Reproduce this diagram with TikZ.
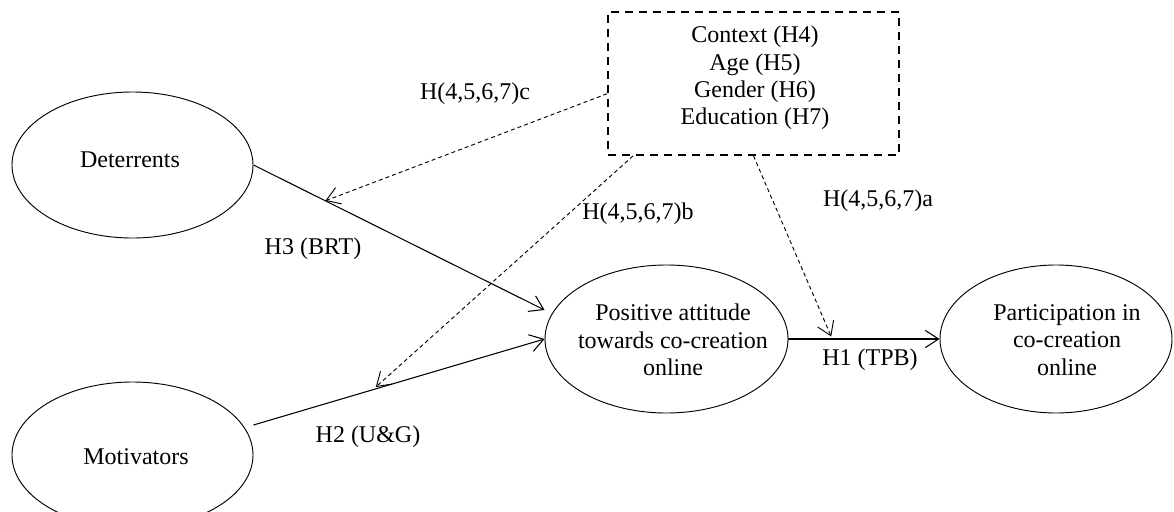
\documentclass[tikz,border=0pt]{standalone}
\usepackage{fontspec}
\setmainfont{Liberation Serif}
\usetikzlibrary{shapes.geometric,arrows.meta,calc}
\begin{document}
\begin{tikzpicture}[x=0.75pt,y=-0.75pt,
  every node/.style={font=\fontsize{18}{20.5}\selectfont},
  construct/.style={draw,ellipse,line width=0.7pt,inner sep=0pt},
  lbl/.style={inner sep=0pt,align=center},
  modbox/.style={draw,dash pattern=on 6pt off 4.5pt,line width=1.3pt,
    minimum width=218.25pt,minimum height=107.25pt,inner sep=0pt},
  link/.style={line width=0.8pt,-{Straight Barb[length=10pt,width=13pt]}},
  modlink/.style={link,line width=0.7pt,dash pattern=on 3pt off 2.3pt}
]
\useasboundingbox (0,0) rectangle (1174,511);

% constructs
\node[construct,minimum width=180.75pt,minimum height=109.5pt] (det) at (132.5,165) {};
\node[construct,minimum width=180.75pt,minimum height=109.5pt] (mot) at (132.5,455) {};
\node[construct,minimum width=182.25pt,minimum height=111pt] (pos) at (666.5,339) {};
\node[construct,minimum width=174pt,minimum height=111pt] (par) at (1056,339) {};

\node[lbl] (detT) at (130,160) {Deterrents};
\node[lbl] (motT) at (136,457) {Motivators};
\node[lbl] (posT) at (673,340) {Positive attitude\\towards co-creation\\online};
\node[lbl] (parT) at (1067,340) {Participation in\\co-creation\\online};

% moderators
\node[modbox] (box) at (753.5,83.5) {};
\node[lbl] (boxT) at (755,78) {Context (H4)\\Age (H5)\\Gender (H6)\\Education (H7)};

% main paths
\draw[link] (det.east) -- coordinate[pos=0.247] (onDP) ($(pos.west)+(0,-29)$);
\draw[link] ($(mot.east)+(0,-30)$) -- coordinate[pos=0.41] (onMP) (pos.west);
\draw[link] (pos.east) -- coordinate[pos=0.29] (onPP) (par.west);

% moderating paths
\draw[modlink] (box.184.5) -- (onDP);
\draw[modlink,shorten >=3pt] (box.211) -- (onMP);
\draw[modlink,shorten >=2pt] (box.south) -- (onPP);

% hypothesis labels
\node[lbl] (hc) at (475,94) {H(4,5,6,7)c};
\node[lbl] (hb) at (638,214) {H(4,5,6,7)b};
\node[lbl] (ha) at (878,201) {H(4,5,6,7)a};
\node[lbl] (h3) at (313,249) {H3 (BRT)};
\node[lbl] (h2) at (368,437) {H2 (U\&G)};
\node[lbl] (h1) at (870,360) {H1 (TPB)};
\end{tikzpicture}
\end{document}
